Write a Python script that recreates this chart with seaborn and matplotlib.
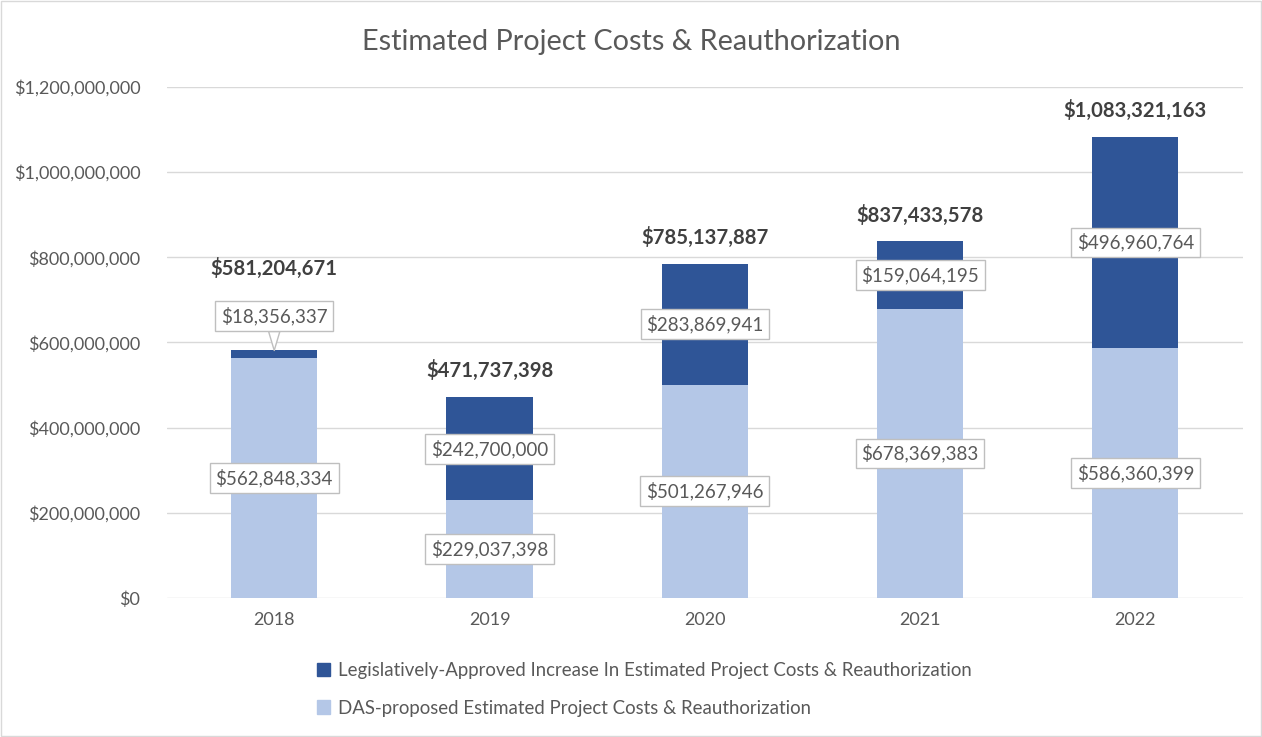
import numpy as np
import pandas as pd
import seaborn as sns
import matplotlib.pyplot as plt
from matplotlib.patches import Patch, Rectangle
from matplotlib.ticker import FuncFormatter

years = ['2018', '2019', '2020', '2021', '2022']
das_proposed = [562848334, 229037398, 501267946, 678369383, 586360399]
leg_increase = [18356337, 242700000, 283869941, 159064195, 496960764]
totals = [581204671, 471737398, 785137887, 837433578, 1083321163]

dark = '#2F5597'
light = '#B4C7E7'
grey_txt = '#595959'

sns.set_theme(style='white')
plt.rcParams['font.family'] = ['Lato', 'DejaVu Sans']

df = pd.DataFrame({'year': years, 'das': das_proposed,
                   'inc': leg_increase, 'total': totals})

fig = plt.figure(figsize=(12.62, 7.37), dpi=100)
ax = fig.add_axes([0.132, 0.1886, 0.853, 0.6934])

# stacked: draw totals (dark) then the DAS part (light) over it
sns.barplot(data=df, x='year', y='total', color=dark, width=0.4,
            saturation=1, linewidth=0, ax=ax, zorder=2)
sns.barplot(data=df, x='year', y='das', color=light, width=0.4,
            saturation=1, linewidth=0, ax=ax, zorder=3)

ax.set_ylim(0, 1.2e9)
ax.set_xlim(-0.5, 4.5)
ax.set_yticks(np.arange(0, 1.2e9 + 1, 2e8))
ax.yaxis.set_major_formatter(FuncFormatter(lambda v, p: f'${v:,.0f}'))
ax.grid(axis='y', color='#D9D9D9', linewidth=1)
ax.set_axisbelow(True)
for s in ax.spines.values():
    s.set_visible(False)
ax.tick_params(axis='both', length=0, labelsize=13, colors=grey_txt)
ax.tick_params(axis='y', pad=19)
ax.tick_params(axis='x', pad=10)
ax.set_xlabel('')
ax.set_ylabel('')

fs = 13.5
box = dict(boxstyle='square,pad=0.3', fc='white', ec='#BFBFBF', lw=1)
for i in range(len(years)):
    ax.text(i, das_proposed[i] / 2, f'${das_proposed[i]:,}', ha='center',
            va='center', fontsize=fs, color=grey_txt, bbox=box, zorder=5)
    if i == 0:
        ax.annotate(f'${leg_increase[i]:,}', xy=(i, totals[i]),
                    xytext=(i, 6.62e8), ha='center', va='center',
                    fontsize=fs, color=grey_txt, bbox=box, zorder=5,
                    arrowprops=dict(arrowstyle='wedge,tail_width=0.6,shrink_factor=0.5',
                                    fc='white', ec='#BFBFBF', lw=1,
                                    shrinkA=0, shrinkB=0))
        ty = 7.75e8
    else:
        ax.text(i, das_proposed[i] + leg_increase[i] / 2,
                f'${leg_increase[i]:,}', ha='center', va='center',
                fontsize=fs, color=grey_txt, bbox=box, zorder=5)
        ty = totals[i] + 0.62e8
    ax.text(i, ty, f'${totals[i]:,}', ha='center', va='center',
            fontsize=14.6, fontweight='bold', color='#404040', zorder=5)

fig.text(0.5, 0.943, 'Estimated Project Costs & Reauthorization',
         ha='center', va='center', fontsize=20.8, color=grey_txt)

handles = [Patch(color=dark), Patch(color=light)]
labels = ['Legislatively-Approved Increase In Estimated Project Costs & Reauthorization',
          'DAS-proposed Estimated Project Costs & Reauthorization']
fig.legend(handles, labels, loc='center left', bbox_to_anchor=(0.244, 0.065),
           frameon=False, fontsize=13.4, labelcolor=grey_txt,
           handlelength=0.7, handleheight=0.7, handletextpad=0.4,
           labelspacing=1.12, borderpad=0)

fig.patches.append(Rectangle((0.001, 0.001), 0.998, 0.998, transform=fig.transFigure,
                             fill=False, ec='#D9D9D9', lw=1))

fig.savefig('out.png', dpi=100)
